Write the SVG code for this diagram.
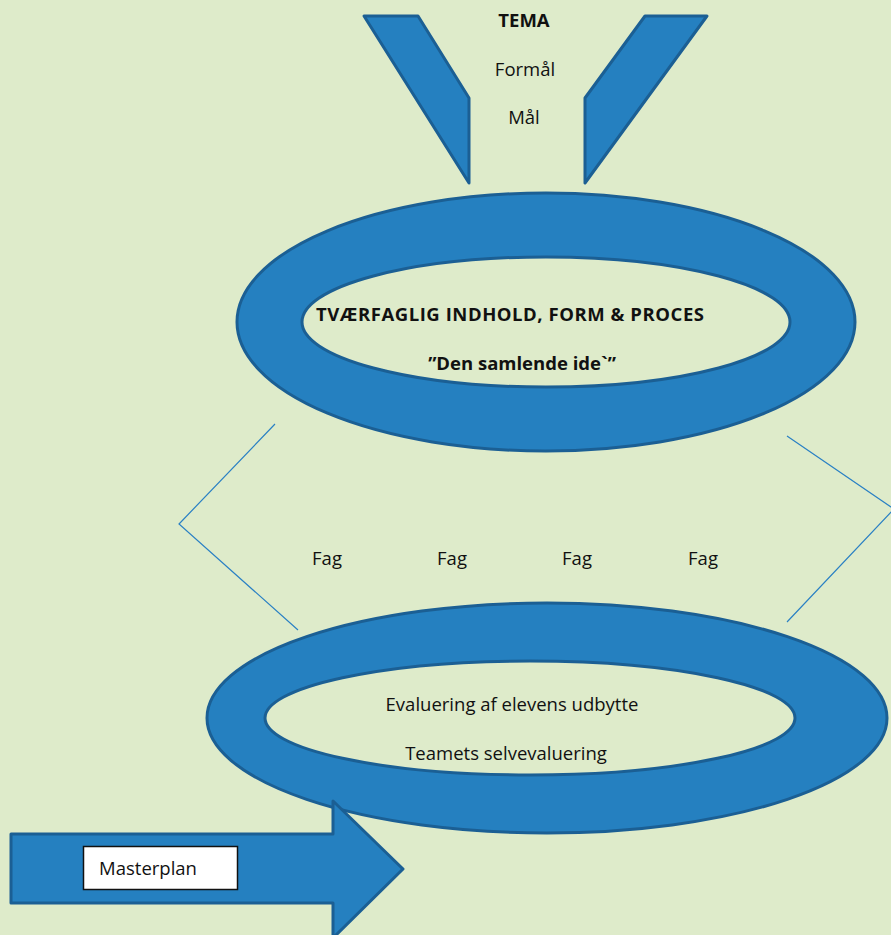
<svg xmlns="http://www.w3.org/2000/svg" width="891" height="935" viewBox="0 0 891 935">
<style>
.shape{fill:#2580C0;stroke:#1B5F94;stroke-width:3;stroke-linejoin:round}
.ring{fill:#2580C0;fill-rule:evenodd;stroke:#1B5F94;stroke-width:3}
.t{font-family:"Open Sans","Liberation Sans",sans-serif;font-size:18.5px;fill:#111;text-anchor:middle}
.b{font-weight:bold}
.ln{fill:none;stroke:#2A80C4;stroke-width:1.2}
</style>
<rect width="891" height="935" fill="#DEEBCA"/>
<g id="funnel">
<polygon class="shape" points="364,16 418,16 469,98 469,183"/>
<polygon class="shape" points="645,16 707,16 585,183 585,98"/>
<text class="t b" x="524" y="27">TEMA</text>
<text class="t" x="525" y="76">Formål</text>
<text class="t" x="524" y="124">Mål</text>
</g>
<g id="top-ring">
<path class="ring" d="M237,322 A309,129 0 1,0 855,322 A309,129 0 1,0 237,322 Z M302,322 A244,65 0 1,0 790,322 A244,65 0 1,0 302,322 Z"/>
<text class="t b" x="510" y="321" textLength="388" lengthAdjust="spacing">TVÆRFAGLIG INDHOLD, FORM &amp; PROCES</text>
<text class="t b" x="522" y="370">”Den samlende ide`”</text>
</g>
<g id="connectors">
<polyline class="ln" points="275,424 179,524 298,630"/>
<polyline class="ln" points="787,436 894,509 787,622"/>
</g>
<g id="fag">
<text class="t" x="327" y="565">Fag</text>
<text class="t" x="452" y="565">Fag</text>
<text class="t" x="577" y="565">Fag</text>
<text class="t" x="703" y="565">Fag</text>
</g>
<g id="bottom-ring">
<path class="ring" d="M207,718 A340,115 0 1,0 887,718 A340,115 0 1,0 207,718 Z M265,718 A265,57 0 1,0 795,718 A265,57 0 1,0 265,718 Z"/>
<text class="t" x="512" y="711">Evaluering af elevens udbytte</text>
<text class="t" x="506" y="760">Teamets selvevaluering</text>
</g>
<g id="masterplan">
<polygon class="shape" points="11,834 333,834 333,801 403,869 333,938 333,903 11,903" stroke-linejoin="miter"/>
<rect x="83.5" y="846.5" width="154" height="43" fill="#fff" stroke="#111" stroke-width="1.5"/>
<text class="t" x="148" y="875">Masterplan</text>
</g>
</svg>
